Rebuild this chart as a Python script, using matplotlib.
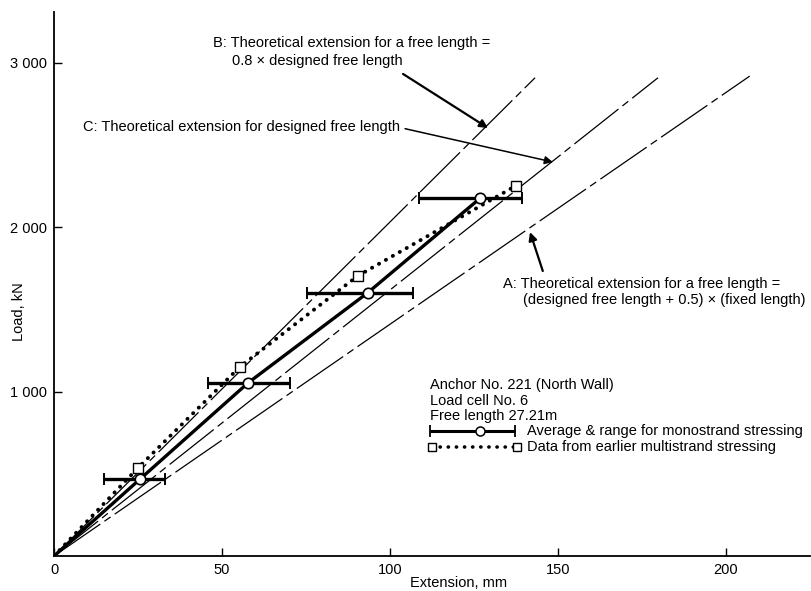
"""Load vs extension for Anchor No. 221 (North Wall), recreated with matplotlib."""

import matplotlib.pyplot as plt

plt.rcParams["font.family"] = ["Liberation Sans", "DejaVu Sans"]

# Average & range for monostrand stressing
mono_ext = [0, 25.6, 57.8, 93.4, 126.8]
mono_load = [0, 468, 1054, 1602, 2176]
mono_lo = [15.0, 45.7, 75.2, 108.7]
mono_hi = [33.0, 70.3, 107.0, 139.2]

# Data from earlier multistrand stressing
multi_ext = [0, 24.9, 55.4, 90.4, 137.5]
multi_load = [0, 534, 1152, 1704, 2253]

# Theoretical lines (end points from the origin)
theory_names = ["B", "C", "A"]
theory_ext = [143.2, 179.8, 207.1]
theory_load = [2910, 2910, 2920]

x_ticks = [0, 50, 100, 150, 200]
y_ticks = [1000, 2000, 3000]
y_tick_labels = ["1 000", "2 000", "3 000"]


def main() -> None:
    fig = plt.figure(figsize=(8.11, 5.91), dpi=100)
    ax = fig.add_axes([0.0666, 0.0592, 0.932, 0.9205])
    ax.set_xlim(0, 225)
    ax.set_ylim(0, 3310)

    for spine in ("top", "right"):
        ax.spines[spine].set_visible(False)
    for spine in ("left", "bottom"):
        ax.spines[spine].set_linewidth(1.3)

    ax.set_xticks(x_ticks)
    ax.set_yticks(y_ticks)
    ax.set_yticklabels(y_tick_labels)
    ax.tick_params(direction="in", length=6, width=1, labelsize=10.5, pad=5)

    # theoretical lines: long dash / short dash
    for xe, ye in zip(theory_ext, theory_load):
        ax.plot([0, xe], [0, ye], color="black", lw=0.9,
                linestyle=(0, (45, 4, 6, 4)))

    # multistrand data (dotted with squares)
    ax.plot(multi_ext, multi_load, color="black", lw=2.8,
            linestyle=(0, (0.05, 2.0)), dash_capstyle="round")
    ax.plot(multi_ext[1:], multi_load[1:], ls="none", marker="s", ms=6.5,
            mfc="white", mec="black", mew=1.0, zorder=5)

    # monostrand average with ranges
    ax.plot(mono_ext, mono_load, color="black", lw=2.4)
    for x, y, lo, hi in zip(mono_ext[1:], mono_load[1:], mono_lo, mono_hi):
        ax.errorbar([x], [y], xerr=[[x - lo], [hi - x]], fmt="none",
                    ecolor="black", elinewidth=2.4, capsize=4, capthick=1.4)
    ax.plot(mono_ext[1:], mono_load[1:], ls="none", marker="o", ms=7.5,
            mfc="white", mec="black", mew=1.2, zorder=6)

    # annotations
    fs = 10.5
    arrow = dict(arrowstyle="-|>", color="black", lw=1.6, mutation_scale=12,
                 shrinkA=0, shrinkB=0)
    ax.text(47.3, 3121, "B: Theoretical extension for a free length =",
            fontsize=fs, va="center")
    ax.text(53.0, 3012, "0.8 × designed free length", fontsize=fs, va="center")
    ax.annotate("", xy=(129.2, 2604), xytext=(103.9, 2933), arrowprops=arrow)

    ax.text(8.6, 2610, "C: Theoretical extension for designed free length",
            fontsize=fs, va="center")
    ax.annotate("", xy=(148.5, 2397), xytext=(104.5, 2600),
                arrowprops=dict(arrow, lw=1.1))

    ax.text(133.6, 1655, "A: Theoretical extension for a free length =",
            fontsize=fs, va="center")
    ax.text(139.6, 1558, "(designed free length + 0.5) × (fixed length)",
            fontsize=fs, va="center")
    ax.annotate("", xy=(141.7, 1971), xytext=(145.5, 1734), arrowprops=arrow)

    # legend block
    ax.text(111.9, 1040, "Anchor No. 221 (North Wall)", fontsize=fs, va="center")
    ax.text(111.9, 943, "Load cell No. 6", fontsize=fs, va="center")
    ax.text(111.9, 852, "Free length 27.21m", fontsize=fs, va="center")

    ax.errorbar([126.8], [761], xerr=[[126.8 - 111.9], [137.2 - 126.8]],
                fmt="none", ecolor="black", elinewidth=2.2, capsize=4,
                capthick=1.3)
    ax.plot([126.8], [761], ls="none", marker="o", ms=6.5, mfc="white",
            mec="black", mew=1.1, zorder=6)
    ax.text(140.8, 761, "Average & range for monostrand stressing",
            fontsize=fs, va="center")

    ax.plot([112.5, 137.8], [663, 663], color="black", lw=2.6,
            linestyle=(0, (0.05, 2.2)), dash_capstyle="round")
    ax.plot([112.5, 137.8], [663, 663], ls="none", marker="s", ms=6,
            mfc="white", mec="black", mew=1.0, zorder=5)
    ax.text(140.8, 663, "Data from earlier multistrand stressing",
            fontsize=fs, va="center")

    ax.set_xlabel("Extension, mm", fontsize=fs)
    ax.set_ylabel("Load, kN", fontsize=fs)
    ax.xaxis.set_label_coords(0.535, -0.037)
    ax.yaxis.set_label_coords(-0.037, 0.449)

    fig.savefig("out.png", dpi=100)
    plt.close(fig)


if __name__ == "__main__":
    main()
